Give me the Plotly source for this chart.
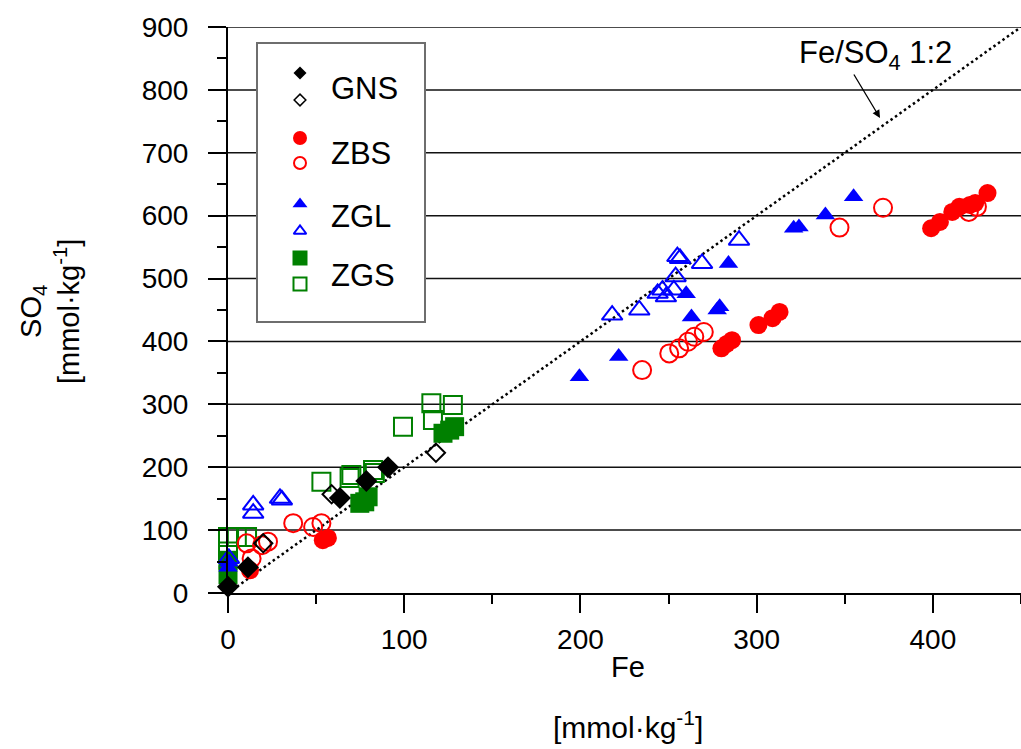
import plotly.graph_objects as go

# ---------------- data (Fe, SO4 in mmol/kg) ----------------
gns_fill_x = [0, 11.3, 63.5, 78.5, 90.8]
gns_fill_y = [10, 41, 151, 178, 200]
gns_open_x = [20, 58.8, 118]
gns_open_y = [79, 157, 223]

zbs_fill_x = [12.5, 53.8, 56.7, 280, 283, 286, 301, 309, 313, 399, 404, 411, 415, 421, 424, 431]
zbs_fill_y = [36, 84, 87.5, 389, 396, 402, 426, 437, 447, 580, 590, 606, 614, 617, 620, 636]
zbs_open_x = [10.6, 19.3, 13.4, 22.7, 37, 48.3, 53, 235, 250.4, 256, 261, 264.6, 270, 347, 371.7, 420.4, 425]
zbs_open_y = [79, 76, 55, 81.6, 111, 105, 111, 354.5, 381, 389, 399.5, 407.5, 415, 581, 612.6, 606, 614]

zgl_fill_x = [0, 0.5, 199.4, 221.7, 263, 260, 279, 277.6, 284, 321, 324, 339, 355]
zgl_fill_y = [41, 49, 344, 376, 439, 476, 455, 450, 524, 580, 582, 601, 630]
zgl_open_x = [0.5, 14.3, 14.3, 29.5, 30.6, 218, 233.4, 243.8, 246.5, 248.5, 253, 254, 255, 256.5, 269, 290]
zgl_open_y = [55, 140, 127, 150.6, 148, 442, 450, 476.5, 481.7, 471, 482, 503, 535, 532, 524, 561]

zgs_fill_x = [0, 0, 74.8, 77.6, 79.5, 122, 125.8, 128.6]
zgs_fill_y = [29, 52, 142.6, 145, 153, 254, 259, 264.5]
zgs_open_x = [0, 5, 10.8, 0, 53, 69, 70, 82.3, 83.3, 99.3, 115.4, 127.6, 116.3]
zgs_open_y = [89, 89, 89, 66, 177, 182.8, 187.6, 195.5, 190.8, 264.5, 301.6, 299, 275]

ratio_x = [0, 450]
ratio_y = [0, 900]

x_ticks = [0, 100, 200, 300, 400]
y_ticks = [0, 100, 200, 300, 400, 500, 600, 700, 800, 900]

legend_names = ["GNS", "ZBS", "ZGL", "ZGS"]

# ---------------- styles ----------------
FONT = "Liberation Sans, Arial, sans-serif"
BLACK = "#000000"
RED = "#ff0000"
BLUE = "#0000ff"
GREEN = "#008000"

fig = go.Figure()

fig.add_trace(go.Scatter(x=ratio_x, y=ratio_y, mode="lines",
                         line=dict(color=BLACK, width=2.5, dash="2.5px,3px"),
                         hoverinfo="skip", showlegend=False))


def pts(x, y, symbol, size, color, filled, lw=2):
    if filled:
        m = dict(symbol=symbol, size=size, color=color, line=dict(width=0))
    else:
        m = dict(symbol=symbol + "-open", size=size, color=color, line=dict(width=lw, color=color))
    fig.add_trace(go.Scatter(x=x, y=y, mode="markers", marker=m, cliponaxis=False, showlegend=False))


pts(zgs_open_x, zgs_open_y, "square", 18, GREEN, False)
pts(zgs_fill_x, zgs_fill_y, "square", 19, GREEN, True)
pts(zgl_open_x, zgl_open_y, "triangle-up", 18, BLUE, False)
pts(zgl_fill_x, zgl_fill_y, "triangle-up", 17, BLUE, True)
pts(zbs_fill_x, zbs_fill_y, "circle", 18, RED, True)
pts(zbs_open_x, zbs_open_y, "circle", 18, RED, False)
pts(gns_open_x, gns_open_y, "diamond", 14, BLACK, False)
pts(gns_fill_x, gns_fill_y, "diamond", 17, BLACK, True)

# ---------------- gridlines (as shapes so the legend box can cover them) ----------------
for yv in y_ticks[1:]:
    fig.add_shape(type="line", xref="x domain", yref="y", x0=0, x1=1, y0=yv, y1=yv,
                  line=dict(color="#111111", width=1.5), layer="below")

# legend box
fig.add_shape(type="rect", xref="x domain", yref="y domain",
              x0=(257 - 228) / 793, x1=(425 - 228) / 793,
              y0=(593 - 322) / 566, y1=(593 - 43) / 566,
              line=dict(color="#6e6e6e", width=2), fillcolor="white", layer="below")

# ---------------- legend (pixel-coordinate overlay axes) ----------------
leg_markers = [
    ("diamond", 10, BLACK, 1.5),
    ("circle", 14, RED, 2),
    ("triangle-up", 13, BLUE, 2),
    ("square", 15, GREEN, 2),
]
leg_rows = [(73, 100, 88), (138, 163, 153), (204, 231, 216), (258, 284, 275)]
for (sym, sz, col, lw), (yf, yo, yt), name in zip(leg_markers, leg_rows, legend_names):
    fig.add_trace(go.Scatter(x=[300], y=[yf], xaxis="x2", yaxis="y2", mode="markers",
                             marker=dict(symbol=sym, size=sz, color=col, line=dict(width=0)),
                             showlegend=False, hoverinfo="skip"))
    osz = sz - 2 if sym != "diamond" else sz - 1
    fig.add_trace(go.Scatter(x=[300], y=[yo], xaxis="x2", yaxis="y2", mode="markers",
                             marker=dict(symbol=sym + "-open", size=osz, color=col,
                                         line=dict(width=lw, color=col)),
                             showlegend=False, hoverinfo="skip"))
    fig.add_annotation(x=329, y=yt, xref="x2", yref="y2", text=name, showarrow=False,
                       xanchor="left", yanchor="middle", font=dict(family=FONT, size=31, color=BLACK))

# ratio annotation
fig.add_annotation(x=875, y=55, xref="x2", yref="y2", text="Fe/SO<sub>4</sub> 1:2", showarrow=False,
                   font=dict(family=FONT, size=31, color=BLACK), xanchor="center", yanchor="middle")
fig.add_annotation(x=880, y=118, ax=853, ay=73, xref="x2", yref="y2", axref="x2", ayref="y2",
                   text="", showarrow=True, arrowhead=2, arrowsize=1.2, arrowwidth=1.3, arrowcolor=BLACK)

# axis titles
fig.add_annotation(x=(50 - 228) / 793, y=(593 - 312) / 566, xref="paper", yref="paper",
                   text="SO<sub>4</sub><br>[mmol·kg<sup>-1</sup>]", textangle=-90, showarrow=False,
                   font=dict(family=FONT, size=29, color=BLACK), xanchor="center", yanchor="middle")
fig.add_annotation(x=(628 - 228) / 793, y=(593 - 667) / 566, xref="paper", yref="paper",
                   text="Fe", showarrow=False,
                   font=dict(family=FONT, size=29, color=BLACK), xanchor="center", yanchor="middle")
fig.add_annotation(x=(628 - 228) / 793, y=(593 - 725) / 566, xref="paper", yref="paper",
                   text="[mmol·kg<sup>-1</sup>]", showarrow=False,
                   font=dict(family=FONT, size=30, color=BLACK), xanchor="center", yanchor="middle")

axis_common = dict(showline=True, linecolor=BLACK, linewidth=2, ticks="outside", ticklen=18,
                   tickwidth=2, tickcolor=BLACK, zeroline=False,
                   tickfont=dict(family=FONT, size=28, color=BLACK),
                   minor=dict(dtick=50, ticks="outside", ticklen=9, tickwidth=2, tickcolor=BLACK, showgrid=False))

fig.update_layout(
    width=1021, height=749,
    margin=dict(l=228, r=0, t=27, b=156),
    paper_bgcolor="white", plot_bgcolor="white",
    showlegend=False,
    xaxis=dict(range=[0, 450], tickvals=x_ticks, showgrid=False, ticklabelstandoff=2, **axis_common),
    yaxis=dict(range=[0, 900], tickvals=y_ticks, showgrid=False, ticklabelstandoff=14, **axis_common),
    xaxis2=dict(overlaying="x", range=[228, 1021], visible=False),
    yaxis2=dict(overlaying="y", range=[593, 27], visible=False),
)

fig.write_html("out.html")
